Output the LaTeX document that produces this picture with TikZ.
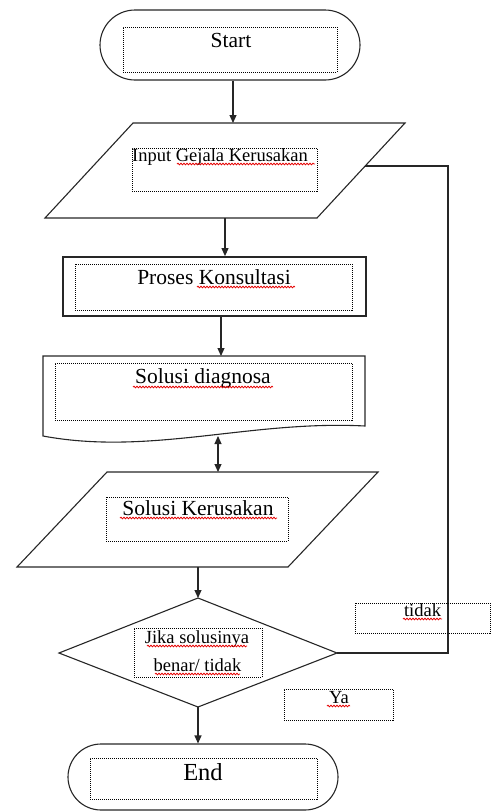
\documentclass[tikz,border=0pt]{standalone}
\usepackage{fontspec}
\setmainfont{Liberation Serif}
\usetikzlibrary{arrows.meta,decorations.pathmorphing,calc}
\tikzset{
 outl/.style={draw=black!85, line width=1.1pt},
 dotbox/.style={draw=black, line width=1pt, dash pattern=on 1pt off 1pt, inner sep=0pt},
 arr/.style={draw=black!85, line width=1.1pt, -{Triangle[length=8pt,width=7pt]}},
 darr/.style={draw=black!85, line width=1.1pt, {Triangle[length=8pt,width=7pt]}-{Triangle[length=8pt,width=7pt]}},
 lbl/.style={anchor=base, inner sep=0pt, font=\fontsize{18.5}{20}\selectfont},
 big/.style={anchor=base, inner sep=0pt, font=\fontsize{21.5}{24}\selectfont},
 squig/.style={draw=red!90!black, line width=0.8pt, decorate, decoration={snake, amplitude=0.8pt, segment length=3pt}},
}
\begin{document}
\begin{tikzpicture}[x=1pt,y=-1pt]
\useasboundingbox (0,0) rectangle (491,812);

% Start
\node[outl, rounded corners=35pt, minimum width=260pt, minimum height=70pt, inner sep=0pt] (start) at (230,45) {};
\node[dotbox, minimum width=214pt, minimum height=45pt] (startbox) at (230,49.5) {};
\node[big] (starttxt) at (231,47) {Start};

% Input parallelogram
\coordinate (p1tl) at (133,123);
\coordinate (p1tr) at (405,123);
\coordinate (p1br) at (317,218);
\coordinate (p1bl) at (45,218);
\coordinate (p1top) at (233,123);
\coordinate (p1bot) at (225,218);
\coordinate (p1r) at (365,166);
\draw[outl] (p1tl) -- (p1tr) -- (p1br) -- (p1bl) -- cycle;
\node[dotbox, minimum width=185pt, minimum height=43pt] (in1box) at (224.5,169.5) {};
\node[lbl, anchor=base west] (in1txt) at (132,161) {Input Gejala Kerusakan};
\draw[squig] (177,164) -- (315,164);

\draw[arr] (start.south -| p1top) -- (p1top);

% Proses
\node[outl, line width=1.8pt, minimum width=303pt, minimum height=59pt, inner sep=0pt] (proc) at (214.5,286.5) {};
\node[dotbox, minimum width=277pt, minimum height=46pt] (procbox) at (213.5,287) {};
\node[big] (proctxt) at (214,284) {Proses Konsultasi};
\draw[squig] (197,287) -- (295,287);
\draw[arr] (p1bot) -- (p1bot |- proc.north);

% Document
\coordinate (doctl) at (43,356);
\coordinate (doctr) at (365,356);
\coordinate (docbr) at (365,426);
\coordinate (docbl) at (43,436);
\coordinate (doctop) at (221,356);
\coordinate (docbot) at (218,436);
\draw[outl] (doctl) -- (doctr) -- (docbr) .. controls (250,420) and (150,456) .. (docbl) -- cycle;
\node[dotbox, minimum width=297pt, minimum height=57pt] (docbox) at (203.5,391.5) {};
\node[big] (doctxt) at (203,383) {Solusi diagnosa};
\draw[squig] (133,387) -- (273,387);
\draw[arr] (proc.south -| doctop) -- (doctop);

% Solusi Kerusakan parallelogram
\coordinate (p2tl) at (107,472);
\coordinate (p2tr) at (378,472);
\coordinate (p2br) at (288,567);
\coordinate (p2bl) at (17,567);
\coordinate (p2top) at (218,472);
\coordinate (p2bot) at (198,567);
\draw[outl] (p2tl) -- (p2tr) -- (p2br) -- (p2bl) -- cycle;
\node[dotbox, minimum width=182pt, minimum height=44pt] (p2box) at (197,519) {};
\node[big] (p2txt) at (198,515) {Solusi Kerusakan};
\draw[squig] (120,518) -- (277,518);
\draw[darr] (docbot) -- (p2top);

% Decision
\coordinate (dt) at (198,598);
\coordinate (dr) at (337,653);
\coordinate (db) at (198,707);
\coordinate (dl) at (59,653);
\draw[outl] (dt) -- (dr) -- (db) -- (dl) -- cycle;
\node[dotbox, minimum width=128pt, minimum height=49pt] (dbox) at (198,652.5) {};
\node[lbl] (dtxt1) at (197,643) {Jika solusinya};
\node[lbl] (dtxt2) at (197.5,671) {benar/ tidak};
\draw[squig] (147,646) -- (247,646);
\draw[squig] (155,674) -- (240,674);
\draw[arr] (p2bot) -- (dt);

% loop back
\coordinate (loopx) at (448,0);
\draw[outl] (dr) -- (dr -| loopx) -- (loopx |- p1r) -- (p1r);

% labels
\node[dotbox, minimum width=135pt, minimum height=30pt] (tidakbox) at (422.5,618) {};
\node[lbl] (tidaktxt) at (422.5,616) {tidak};
\draw[squig] (403,619) -- (442,619);
\node[dotbox, minimum width=109pt, minimum height=31pt] (yabox) at (338.5,704.5) {};
\node[lbl] (yatxt) at (339,703) {Ya};
\draw[squig] (327,706) -- (350,706);

% End
\node[outl, rounded corners=33pt, minimum width=270pt, minimum height=66pt, inner sep=0pt] (end) at (203,777) {};
\node[dotbox, minimum width=227pt, minimum height=41pt] (endbox) at (203.5,778.5) {};
\node[anchor=base, inner sep=0pt, font=\fontsize{24.5}{28}\selectfont] (endtxt) at (203,780) {End};
\draw[arr] (db) -- (db |- end.north);
\end{tikzpicture}
\end{document}
